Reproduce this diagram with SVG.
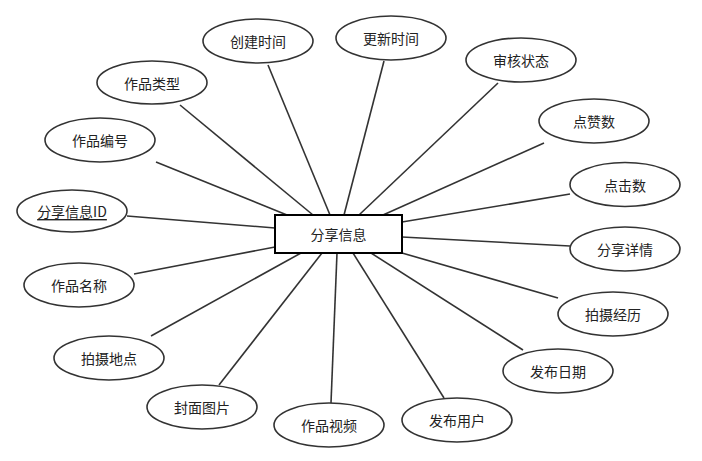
<svg xmlns="http://www.w3.org/2000/svg" width="702" height="461" viewBox="0 0 702 461">
<style>
.e{fill:#fff;stroke:#333;stroke-width:1.6}
.t{font-family:"Microsoft YaHei","Noto Sans CJK SC",sans-serif;font-size:14px;fill:#222;text-anchor:middle;dominant-baseline:central}
.c line{stroke:#333;stroke-width:1.6}
</style>
<rect width="702" height="461" fill="#fff"/>
<g id="connectors" class="c">
<line x1="268" y1="65" x2="330" y2="215"/>
<line x1="384" y1="61" x2="344" y2="215"/>
<line x1="498" y1="83" x2="359" y2="215"/>
<line x1="544" y1="143" x2="383" y2="215"/>
<line x1="570" y1="194" x2="402" y2="222"/>
<line x1="570" y1="246" x2="402" y2="237"/>
<line x1="558" y1="298" x2="402" y2="253"/>
<line x1="523" y1="350" x2="371" y2="253"/>
<line x1="444" y1="398" x2="353" y2="253"/>
<line x1="331" y1="403" x2="337" y2="253"/>
<line x1="219" y1="385" x2="322" y2="253"/>
<line x1="151" y1="336" x2="301" y2="253"/>
<line x1="134" y1="274" x2="275" y2="247"/>
<line x1="127" y1="216" x2="275" y2="228"/>
<line x1="156" y1="162" x2="287" y2="215"/>
<line x1="180" y1="105" x2="313" y2="215"/>
</g>
<g id="center">
<rect x="275" y="215" width="127" height="38" fill="#fff" stroke="#000" stroke-width="2"/>
<text class="t" x="338.5" y="234">分享信息</text>
</g>
<g id="n-chuangjian"><ellipse class="e" cx="258" cy="41" rx="55" ry="22"/><text class="t" x="258" y="41">创建时间</text></g>
<g id="n-gengxin"><ellipse class="e" cx="391" cy="38" rx="55" ry="22"/><text class="t" x="391" y="38">更新时间</text></g>
<g id="n-shenhe"><ellipse class="e" cx="521" cy="60" rx="55" ry="22"/><text class="t" x="521" y="60">审核状态</text></g>
<g id="n-dianzan"><ellipse class="e" cx="594" cy="121" rx="55" ry="22"/><text class="t" x="594" y="121">点赞数</text></g>
<g id="n-dianji"><ellipse class="e" cx="625" cy="184.5" rx="55" ry="22"/><text class="t" x="625" y="184.5">点击数</text></g>
<g id="n-xiangqing"><ellipse class="e" cx="625" cy="249" rx="55" ry="22"/><text class="t" x="625" y="249">分享详情</text></g>
<g id="n-jingli"><ellipse class="e" cx="613" cy="314" rx="55" ry="22"/><text class="t" x="613" y="314">拍摄经历</text></g>
<g id="n-riqi"><ellipse class="e" cx="558" cy="371" rx="55" ry="22"/><text class="t" x="558" y="371">发布日期</text></g>
<g id="n-yonghu"><ellipse class="e" cx="457" cy="420" rx="55" ry="22"/><text class="t" x="457" y="420">发布用户</text></g>
<g id="n-shipin"><ellipse class="e" cx="329" cy="425" rx="55" ry="22"/><text class="t" x="329" y="425">作品视频</text></g>
<g id="n-fengmian"><ellipse class="e" cx="202" cy="407" rx="55" ry="22"/><text class="t" x="202" y="407">封面图片</text></g>
<g id="n-didian"><ellipse class="e" cx="109" cy="358" rx="55" ry="22"/><text class="t" x="109" y="358">拍摄地点</text></g>
<g id="n-mingcheng"><ellipse class="e" cx="79" cy="285" rx="55" ry="22"/><text class="t" x="79" y="285">作品名称</text></g>
<g id="n-id"><ellipse class="e" cx="72" cy="211" rx="55" ry="21"/><text class="t" x="72" y="211" text-decoration="underline">分享信息ID</text></g>
<g id="n-bianhao"><ellipse class="e" cx="100" cy="140" rx="55" ry="22"/><text class="t" x="100" y="140">作品编号</text></g>
<g id="n-leixing"><ellipse class="e" cx="152" cy="82.5" rx="55" ry="21.5"/><text class="t" x="152" y="82.5">作品类型</text></g>
</svg>
